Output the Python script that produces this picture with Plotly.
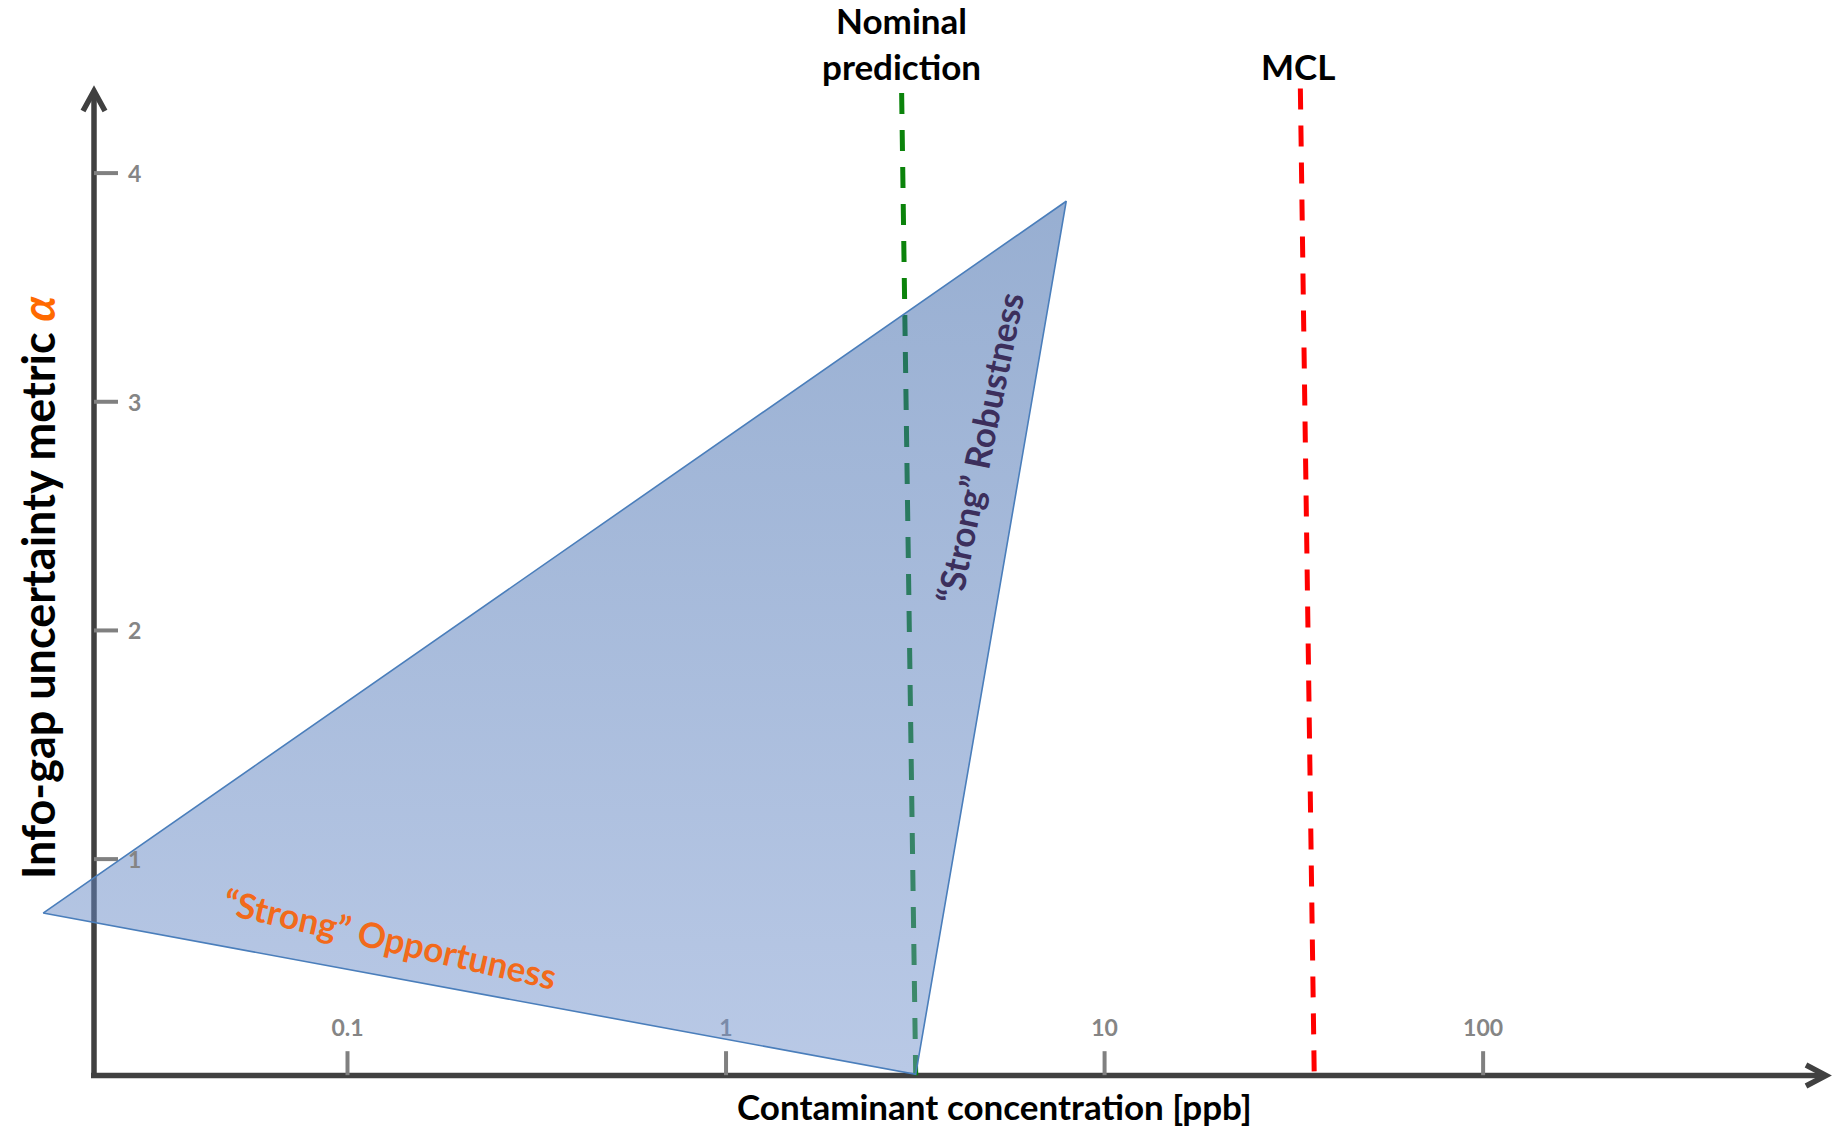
import plotly.graph_objects as go

# ---------------- data ----------------
x_tick_vals = [0.1, 1, 10, 100]
x_tick_text = ["0.1", "1", "10", "100"]
y_tick_vals = [1, 2, 3, 4]
y_tick_text = ["1", "2", "3", "4"]

# triangle vertices (concentration [ppb], alpha)
triangle_conc = [0.0157, 7.92, 3.17]
triangle_alpha = [0.764, 3.877, 0.059]

# vertical reference lines (top, bottom)
nominal_conc = [2.91, 3.17]
nominal_alpha = [4.35, 0.055]
mcl_conc = [32.9, 35.8]
mcl_alpha = [4.37, 0.055]

x_title = "Contaminant concentration [ppb]"
y_title = "Info-gap uncertainty metric <i><span style='color:#ff6a00'>α</span></i>"

# ---------------- figure ----------------
W, H = 1845, 1131
AXIS_ALPHA = 0.055
TICK_TOP_ALPHA = 0.16
TICK_LABEL_ALPHA = 0.25


def pxx(x):
    return x / W


def pyy(y):
    return 1 - y / H


fig = go.Figure()

# nominal prediction line (under triangle)
fig.add_trace(go.Scatter(
    x=nominal_conc, y=nominal_alpha, mode="lines",
    line=dict(color="#0b830b", width=5, dash="21px,16px"),
    hoverinfo="skip"))

# MCL line
fig.add_trace(go.Scatter(
    x=mcl_conc, y=mcl_alpha, mode="lines",
    line=dict(color="#ff0000", width=5, dash="21px,16px"),
    hoverinfo="skip"))

# x tick marks
tx, ty = [], []
for v in x_tick_vals:
    tx += [v, v, None]
    ty += [AXIS_ALPHA, TICK_TOP_ALPHA, None]
fig.add_trace(go.Scatter(x=tx, y=ty, mode="lines",
                         line=dict(color="#808080", width=4), hoverinfo="skip"))

# x tick labels
fig.add_trace(go.Scatter(
    x=x_tick_vals, y=[TICK_LABEL_ALPHA] * len(x_tick_vals), mode="text",
    text=x_tick_text, textposition="middle center",
    textfont=dict(family="Lato", size=23, color="#858585", weight="bold"),
    hoverinfo="skip"))

# triangle
fig.add_trace(go.Scatter(
    x=triangle_conc + [triangle_conc[0]],
    y=triangle_alpha + [triangle_alpha[0]],
    mode="lines", fill="toself",
    line=dict(color="#4a7ebb", width=1.6),
    fillgradient=dict(type="vertical",
                      colorscale=[[0, "rgba(115,147,205,0.5)"],
                                  [1, "rgba(48,94,164,0.5)"]]),
    hoverinfo="skip"))

shapes = []
AX_COLOR = "#404040"
# y axis
shapes.append(dict(type="line", xref="paper", yref="paper",
                   x0=pxx(94), x1=pxx(94), y0=pyy(1078), y1=pyy(93),
                   line=dict(color=AX_COLOR, width=5.5), layer="below"))
shapes.append(dict(type="path", xref="paper", yref="paper",
                   path=f"M {pxx(83)},{pyy(111)} L {pxx(94)},{pyy(91)} L {pxx(105)},{pyy(111)}",
                   line=dict(color=AX_COLOR, width=5.5), layer="below"))
# x axis
shapes.append(dict(type="line", xref="paper", yref="paper",
                   x0=pxx(91), x1=pxx(1824), y0=pyy(1075.5), y1=pyy(1075.5),
                   line=dict(color=AX_COLOR, width=5.5), layer="below"))
shapes.append(dict(type="path", xref="paper", yref="paper",
                   path=f"M {pxx(1806)},{pyy(1065)} L {pxx(1826)},{pyy(1075.5)} L {pxx(1806)},{pyy(1086)}",
                   line=dict(color=AX_COLOR, width=5.5), layer="below"))
# y tick marks
for v in y_tick_vals:
    shapes.append(dict(type="line", xref="paper", yref="y",
                       x0=pxx(94), x1=pxx(118), y0=v, y1=v,
                       line=dict(color="#808080", width=4), layer="below"))

annotations = []
for v, t in zip(y_tick_vals, y_tick_text):
    annotations.append(dict(xref="paper", yref="y", x=pxx(134), y=v, text=t,
                            showarrow=False, xanchor="center", yanchor="middle",
                            font=dict(family="Lato", size=23, color="#858585", weight="bold")))

annotations += [
    dict(xref="paper", yref="paper", x=pxx(901), y=pyy(43),
         text="Nominal<br>prediction", showarrow=False,
         xanchor="center", yanchor="middle",
         font=dict(family="Lato", size=35, color="#000000", weight="bold")),
    dict(xref="paper", yref="paper", x=pxx(1298), y=pyy(66),
         text="MCL", showarrow=False, xanchor="center", yanchor="middle",
         font=dict(family="Lato", size=35, color="#000000", weight="bold")),
    dict(xref="paper", yref="paper", x=pxx(994), y=pyy(1106),
         text=x_title, showarrow=False, xanchor="center", yanchor="middle",
         font=dict(family="Lato", size=35, color="#000000", weight="bold")),
    dict(xref="paper", yref="paper", x=pxx(38), y=pyy(587),
         text=y_title, showarrow=False, xanchor="center", yanchor="middle",
         textangle=-90,
         font=dict(family="Lato", size=45, color="#000000", weight="bold")),
    dict(xref="paper", yref="paper", x=pxx(390), y=pyy(938),
         text="“Strong” Opportuness", showarrow=False,
         xanchor="center", yanchor="middle", textangle=13,
         font=dict(family="Lato", size=35, color="#f26a1b", weight="bold")),
    dict(xref="paper", yref="paper", x=pxx(979), y=pyy(448),
         text="“Strong” Robustness", showarrow=False,
         xanchor="center", yanchor="middle", textangle=-78.5,
         font=dict(family="Lato", size=35, color="#3c2f5c", weight="bold")),
]

fig.update_layout(
    width=W, height=H,
    margin=dict(l=0, r=0, t=0, b=0),
    paper_bgcolor="white", plot_bgcolor="white",
    showlegend=False,
    xaxis=dict(type="log", range=[-1.918, 2.956], visible=False, fixedrange=True),
    yaxis=dict(range=[-0.189, 4.757], visible=False, fixedrange=True),
    shapes=shapes,
    annotations=annotations,
)

fig.write_html("out.html", post_script="document.body.style.margin='0';",
               config={"displayModeBar": False})
